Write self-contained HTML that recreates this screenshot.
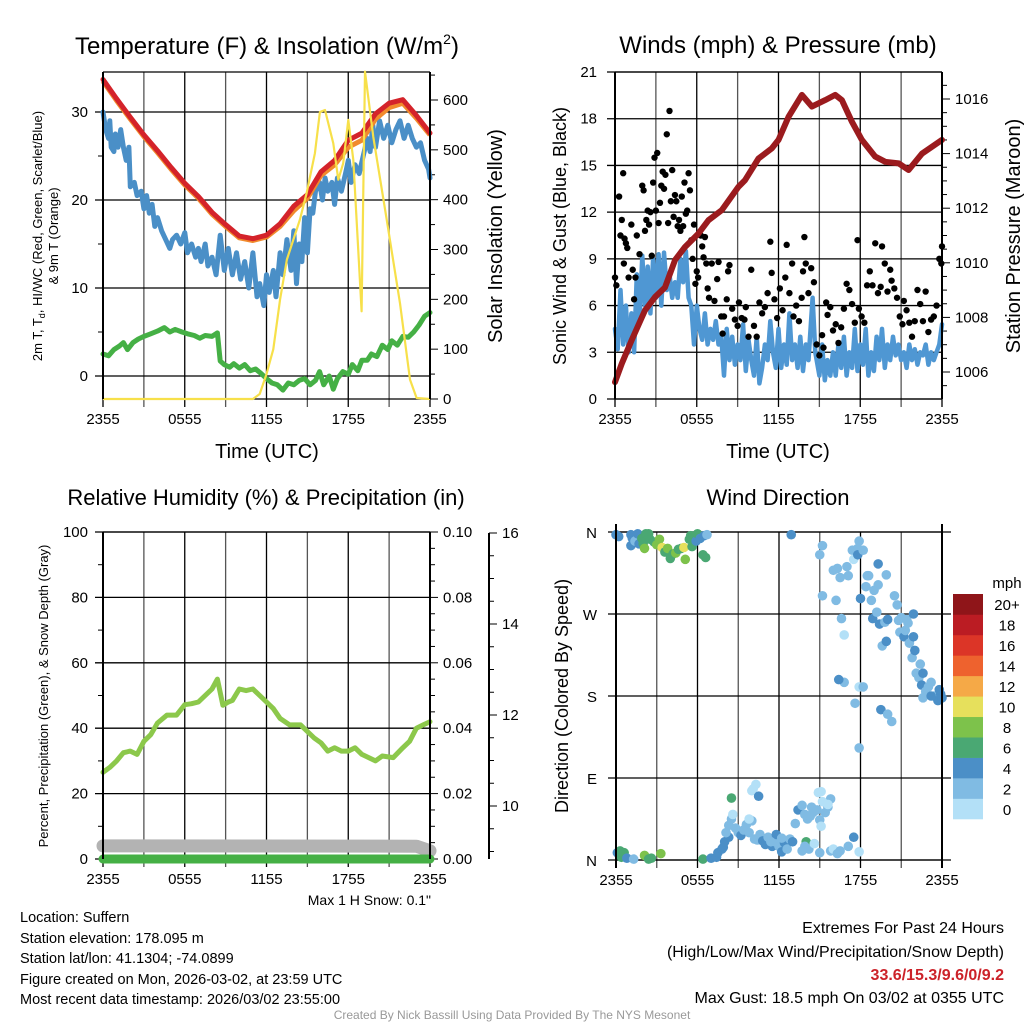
<!DOCTYPE html>
<html><head><meta charset="utf-8"><style>
html,body{margin:0;padding:0;background:#fff;}
svg{display:block;font-family:"Liberation Sans",Arial,sans-serif;}
</style></head><body>
<svg id="c" width="1024" height="1024" viewBox="0 0 1024 1024" xmlns="http://www.w3.org/2000/svg">
<rect width="1024" height="1024" fill="#fff"/>
<g id="g1"></g>
<g id="g2"></g>
<g id="g3"></g>
<g id="g4"></g>
<text x="267" y="54" font-size="24" text-anchor="middle">Temperature (F) &amp; Insolation (W/m<tspan font-size="14" dy="-10">2</tspan><tspan dy="10">)</tspan></text>
<text x="778" y="53" font-size="24" text-anchor="middle">Winds (mph) &amp; Pressure (mb)</text>
<text x="266" y="505" font-size="22" text-anchor="middle">Relative Humidity (%) &amp; Precipitation (in)</text>
<text x="778" y="505" font-size="22" text-anchor="middle">Wind Direction</text>
<text x="267" y="458" font-size="20" text-anchor="middle">Time (UTC)</text>
<text x="778" y="458" font-size="20" text-anchor="middle">Time (UTC)</text>
<text transform="translate(42,236) rotate(-90)" font-size="13" text-anchor="middle">2m T, T<tspan font-size="9" dy="3">d</tspan><tspan dy="-3">, HI/WC (Red, Green, Scarlet/Blue)</tspan></text>
<text transform="translate(58,236) rotate(-90)" font-size="13" text-anchor="middle">&amp; 9m T (Orange)</text>
<text transform="translate(502,236) rotate(-90)" font-size="20" text-anchor="middle">Solar Insolation (Yellow)</text>
<text transform="translate(566,236) rotate(-90)" font-size="18" text-anchor="middle">Sonic Wind &amp; Gust (Blue, Black)</text>
<text transform="translate(1020,236) rotate(-90)" font-size="20" text-anchor="middle">Station Pressure (Maroon)</text>
<text transform="translate(48,696) rotate(-90)" font-size="13" text-anchor="middle">Percent, Precipitation (Green), &amp; Snow Depth (Gray)</text>
<text transform="translate(568,696) rotate(-90)" font-size="18" text-anchor="middle">Direction (Colored By Speed)</text>
<text x="431" y="905" font-size="14" text-anchor="end">Max 1 H Snow: 0.1"</text>
<g font-size="14.5">
<text x="20" y="922">Location: Suffern</text>
<text x="20" y="943">Station elevation: 178.095 m</text>
<text x="20" y="963">Station lat/lon: 41.1304; -74.0899</text>
<text x="20" y="984">Figure created on Mon, 2026-03-02, at 23:59 UTC</text>
<text x="20" y="1004">Most recent data timestamp: 2026/03/02 23:55:00</text>
</g>
<g font-size="16" text-anchor="end">
<text x="1004" y="933">Extremes For Past 24 Hours</text>
<text x="1004" y="957">(High/Low/Max Wind/Precipitation/Snow Depth)</text>
<text x="1004" y="980" fill="#cc2229" font-weight="bold">33.6/15.3/9.6/0/9.2</text>
<text x="1004" y="1003">Max Gust: 18.5 mph On 03/02 at 0355 UTC</text>
</g>
<text x="512" y="1019" font-size="12" fill="#999" text-anchor="middle">Created By Nick Bassill Using Data Provided By The NYS Mesonet</text>
</svg>
<script>
// ---------- DATA ----------
const timeTickLabels = ["2355","0555","1155","1755","2355"];
const tempTicks = [0,10,20,30];
const insolTicks = [0,100,200,300,400,500,600];
const windTicks = [0,3,6,9,12,15,18,21];
const presTicks = [1006,1008,1010,1012,1014,1016];
const rhTicks = [0,20,40,60,80,100];
const precipTicks = ["0.00","0.02","0.04","0.06","0.08","0.10"];
const snowTicks = [10,12,14,16];
const dirLabels = ["N","E","S","W","N"];
const dirTicks = [0,90,180,270,360];

const redH = [0,1,2,3,4,5,6,7,8,9,10,11,12,13,14,15,16,17,18,19,20,21,22,23,24];
const redT = [33.7,31.5,29.4,27.4,25.6,23.7,21.9,20.4,18.6,17.2,15.9,15.6,16.0,17.3,19.3,20.6,23.2,24.5,26.8,27.6,29.8,31.0,31.4,29.6,27.6];
const orangeT = [33.5,31.3,29.2,27.2,25.4,23.5,21.7,20.2,18.4,17.0,15.7,15.4,15.8,17.0,18.8,20.2,22.8,24.0,26.0,26.8,29.2,30.5,31.0,29.3,27.4];
const blueH = [0,0.2,0.4,0.5,0.6,0.8,0.9,1.1,1.3,1.5,1.7,1.9,2.0,2.3,2.5,2.8,3.0,3.2,3.4,3.6,3.8,4.0,4.3,4.6,4.9,5.1,5.4,5.7,6.0,6.2,6.5,6.8,7.0,7.2,7.5,7.7,8.0,8.3,8.6,8.9,9.2,9.5,9.8,10.1,10.4,10.7,11.0,11.3,11.5,11.8,12.0,12.2,12.5,12.7,13.0,13.2,13.5,13.8,14.0,14.2,14.4,14.6,14.8,15.0,15.2,15.4,15.6,15.9,16.1,16.3,16.5,16.8,17.0,17.2,17.5,17.8,18.0,18.2,18.5,18.8,19.1,19.4,19.6,19.8,20.0,20.3,20.6,20.9,21.2,21.5,21.8,22.1,22.4,22.7,23.0,23.3,23.6,23.9,24];
const blueT = [30,28,27,29,26,25.5,27.5,26,28,26,24.5,26,21.5,22,20.5,21,19,20.5,18.5,19.5,17,18,16.5,15.5,14.5,15.5,16,15,16.3,14,15,13.5,14.5,13,15,12.5,13.5,11.5,16,12,14.5,11.5,14,11,13,10,14,9,10.5,8,11.5,9.5,12,9,14,11.5,15.5,12,16.5,10.5,15,13,18,14,19,18.5,21,22,20,22.5,21,22,19.5,22.5,21,23,24.5,22,24,23,25,27,25.5,28.5,26,29,27,28.5,26.5,28,29,27,28.5,27,26,26.5,24.5,23.5,22.5];
const greenH = [0,0.4,0.8,1.2,1.5,1.8,2.2,2.6,3.0,3.5,4.0,4.5,4.9,5.3,5.8,6.2,6.7,7.1,7.5,8.0,8.4,8.6,8.9,9.3,9.6,10.0,10.4,10.8,11.2,11.6,12.0,12.4,12.8,13.2,13.6,14.0,14.4,14.8,15.2,15.6,15.9,16.2,16.6,16.9,17.2,17.6,18.0,18.3,18.7,19.0,19.4,19.7,20.1,20.5,20.9,21.2,21.6,22.0,22.4,22.8,23.2,23.6,24];
const greenT = [2.5,2.3,3,3.4,3.8,3,3.8,4.2,4.5,4.8,5.1,5.5,5.0,5.3,5,4.8,4.6,4.3,4.6,4.5,4.9,1.7,1.3,1,1.4,0.9,1.3,0.6,0.8,0.3,-0.3,-0.8,-1,-1.6,-0.8,-1,-0.5,-0.3,-1.0,-0.5,0.5,-1.0,0,-1.5,-0.3,0.5,0.2,1.3,0.6,1.8,1.8,2.5,2.2,3.5,3,4,3.5,4.5,4.4,5,5.8,6.8,7.2];
const solarH = [0,11.0,11.5,12.0,12.5,13.0,13.5,14.45,14.94,15.55,15.92,16.29,16.9,17.27,17.63,18.0,18.37,18.98,19.23,19.84,20.82,21.8,22.53,23.02,24];
const solarW = [0,0,10,50,100,200,280,360,413,493,576,580,513,440,473,560,480,176,657,526,360,192,39,2,0];

const presH = [0,0.49,1.22,2.2,2.94,3.67,4.4,5.14,6.12,6.86,7.84,9.06,9.55,10.53,11.51,12,12.74,13.72,14.45,15.43,16.16,16.65,17.39,18.12,19.1,19.84,20.82,21.55,22.53,24];
const presMb = [1005.63,1006.3,1007.16,1008.26,1008.75,1009.1,1010.1,1010.58,1011.07,1011.56,1011.93,1012.78,1013.03,1013.82,1014.19,1014.5,1015.35,1016.15,1015.72,1015.96,1016.15,1015.96,1015.17,1014.5,1013.89,1013.7,1013.64,1013.4,1014.0,1014.5];
const windH = [0,0.2,0.4,0.6,0.8,1,1.2,1.4,1.6,1.8,2.0,2.2,2.4,2.6,2.8,3.0,3.2,3.4,3.6,3.8,4.0,4.2,4.4,4.6,4.8,5.0,5.2,5.4,5.6,5.8,6.0,6.2,6.4,6.6,6.8,7.0,7.2,7.4,7.6,7.8,8.0,8.2,8.4,8.6,8.8,9.0,9.2,9.4,9.6,9.8,10.0,10.2,10.4,10.6,10.8,11.0,11.2,11.4,11.6,11.8,12.0,12.2,12.4,12.6,12.8,13.0,13.2,13.4,13.6,13.8,14.0,14.2,14.5,14.7,15.0,15.2,15.4,15.6,15.8,16.0,16.2,16.4,16.6,16.8,17.0,17.2,17.4,17.6,17.8,18.0,18.2,18.4,18.6,18.8,19.0,19.2,19.4,19.6,19.8,20.0,20.2,20.4,20.6,20.8,21.0,21.2,21.4,21.6,21.8,22.0,22.2,22.4,22.6,22.8,23.0,23.2,23.4,23.6,23.8,24];
const windMph = [4.5,3.2,7,3.5,6,3,5.5,3,8,5,9.2,6,8.5,5.5,9,6.5,9.3,6,9.4,7,8,6.5,7.5,6.5,9,7.5,9.5,6.5,6,3.5,6,4.5,3.8,5.5,3.5,4.5,3.8,5,3.5,4,1.5,4.5,2.5,4,2.2,3.5,2.5,4.8,1.8,3.8,2.5,1.5,4.0,1,2,3.5,2.5,5,3,2,4.5,2,3.5,2.2,5.5,2.5,3.5,2,4,1.8,3.5,2.5,6.5,3,1.5,3.5,1.2,2.5,1.5,3.0,1.5,3.5,2,4,1.5,3,2,4.5,1.8,3.5,2.2,4.5,1.5,3,1.8,4,2.5,4.5,2,3.5,2.5,4,2.8,3.5,2.5,3,2,3.5,2.5,3.2,2.2,3,2.8,3.5,2.2,3,2.5,3,3.5,4.8];
const gustH = [0,0.1,0.3,0.4,0.5,0.6,0.7,0.8,0.9,0.65,1,1.2,1.3,1.4,1.5,1.6,1.8,2,2.1,2.2,2.3,2.4,2.5,2.6,2.7,2.8,2.9,3,3.1,3.2,3.3,3.4,3.5,3.6,3.7,3.8,3.9,4,4.1,4.2,4.3,4.4,4.5,4.6,4.7,4.8,4.9,5,5.1,5.2,5.3,5.4,5.5,5.6,5.7,5.8,5.9,6,6.1,6.3,6.4,6.5,6.6,6.7,6.8,6.9,7.1,7.3,7.5,7.6,7.8,7.9,8,8.2,8.3,8.4,8.6,8.8,9,9.1,9.3,9.5,9.6,9.8,10,10.2,10.4,10.6,10.8,11,11.2,11.4,11.5,11.7,11.9,12.1,12.3,12.5,12.6,12.8,13,13.1,13.3,13.5,13.7,13.8,13.9,14,14.2,14.4,14.6,14.8,15,15.2,15.3,15.5,15.6,15.8,16,16.2,16.4,16.6,16.8,17,17.2,17.4,17.6,17.8,17.9,18.1,18.3,18.5,18.7,18.9,19.1,19.3,19.5,19.6,19.8,20,20.2,20.3,20.5,20.7,20.9,21.1,21.2,21.4,21.6,21.8,22,22.2,22.4,22.6,22.8,23,23.2,23.4,23.6,23.8,23.95,24];
const gustMph = [7.8,7.3,13,10.5,11.5,14.5,10.3,10,9.7,8.7,7.8,11.2,8.3,6.4,7.8,10.5,9.3,13.7,13.4,10.8,11.5,12.1,11.2,12,9.2,13.9,15.5,12.1,15.8,11.3,12.6,13.7,14.6,13.5,14.4,17,11.3,18.5,12.7,14.7,11.7,13.1,12.7,11.1,11.5,10.8,13,11.1,13.9,11.9,12.1,14.5,13.4,10.2,9,11.2,7.4,8.2,7.8,10.5,9.8,9.1,10.4,8.7,7.1,6.5,8.7,6.3,7.7,8.8,5.3,4.2,5.3,6.4,8.2,8.6,5.8,5.1,4.7,6.2,5.2,5.1,5.9,4,8.3,4.7,4,6.2,5.5,5.9,6.8,10.1,8.1,6.4,5.2,7.1,5.7,7.8,9.9,6.8,8.7,5.3,6,5,6.5,8.2,10.4,8.7,6.8,8.4,7.5,3.5,2.8,4.1,3.3,6.2,5.4,5.9,4.4,4.8,3.6,4.6,5.8,7.4,7,6.1,4.9,10.2,5.8,5.3,4.9,7.3,8.2,7.3,10,6.8,7.2,9.8,8.7,6.9,8.3,7.6,7.1,6.5,5.3,4.8,6.3,5.7,4.9,4,5,7,6.1,5,6.9,4.3,5.1,5.3,6,9,8.7,9.8];

const rhH = [0,0.5,1,1.5,2,2.5,3,3.5,4,4.7,5.4,6,6.5,7,7.5,8,8.4,8.8,9.2,9.5,10,10.5,11,11.5,12,12.5,13,13.7,14.5,15,15.5,16,16.5,17,17.5,18,18.5,19,19.5,20,20.5,21.3,22,22.5,23,23.5,24];
const rhPct = [26.5,28,30,32.5,33,32,36,38,41.6,44,44,47.2,47.5,48,50,52,55,47,48,48.5,52,51.5,52,50,48,46,43,41,41,39,37,35.5,33,34,33,33,34,32,31,30,31.5,31,34,36,40,41,42];
const snowH = [0,1,23,24];
const snowPct = [4,4,3.9,2.5];
const precipH = [0,24];
const precipIn = [0,0];

const dirH = [0,1.1,1.2,1.1,1.4,1.6,1.7,1.9,2,2.2,2.4,2.1,2.5,2.8,3,3.2,3.4,3.6,3.8,4,4.2,4.4,4.6,4.8,5,5.1,5.4,5.5,5.6,5.9,6,6.2,6.5,6.7,6.4,6.6,12.9,0.2,
0.1,0.3,0.6,0.4,0.8,1.3,2.1,2.4,2.6,3.3,6.4,7,7.4,
7.5,7.8,7.9,8,8.3,8.1,8.5,8.3,8.6,8.8,9,9.2,9.4,9.6,9.8,10,10.2,10.4,10.6,10.8,11,11.2,11.5,11.7,11.8,12,12.2,12.4,12.6,12.8,13,13.2,13.4,13.7,13.9,14.1,14.3,14.4,14.5,14.8,15,15.1,15.4,15.6,15.8,15.2,15.1,15.6,14.9,10.1,10.3,10,10.5,8.5,14,13.9,14.2,13.7,14.6,15,15.8,16,16.3,16.5,17.1,17.5,17.9,11.4,12.2,9.8,
15,15.2,15.2,16,16.2,16.3,16.5,16.6,16.8,17,17.1,17.4,17.5,17.8,17.9,17.8,18.2,18,18.5,18.6,18.4,18.8,18.9,19,19.3,19.2,19.4,19.6,19.8,19.9,20,20.5,20.7,20.8,20.9,21,21.2,21.4,21.6,21.8,22,22.1,22.3,22.4,22.5,22.6,22.8,23,23.2,23.4,23.6,23.7,23.9,24,23.8,22.6,23.2,21.5,21.9,17.9,18.2,17.6,17.9,19.5,20,20.3,21.9,21.3,16.8,16.4,19.3,19.9];
const dirDeg = [357,357,353,345,350,358,347,353,347,358,358,342,352,349,346,352,343,338,342,331,336,337,341,342,343,330,352,356,344,350,358,353,356,357,335,332,357,355,
8,10,8,3,2,1,5,1,2,7,1,2,3,
8,12,14,20,25,30,45,38,50,35,30,27,33,39,30,43,23,22,28,21,17,25,15,20,28,15,9,19,12,23,20,40,55,60,50,45,48,58,52,55,44,37,52,58,67,64,75,61,74,78,83,76,70,68,20,15,12,10,18,8,10,12,7,10,15,25,9,20,24,45,
335,345,290,318,285,320,310,265,247,322,312,340,330,342,350,335,340,287,312,312,300,285,265,296,302,272,259,235,261,240,264,290,280,263,250,266,245,264,238,222,230,205,200,215,192,178,185,190,195,180,178,175,182,178,187,205,180,260,245,190,190,172,123,165,160,152,270,252,195,198,325,313];
const dirSpd = [4,4,4,4,3,4,5,6,7,6,6,8,7,6,8,8,10,6,8,6,6,8,7,6,10,8,6,6,6,4,6,4,4,3,6,6,4,4,
5,6,6,6,4,2,8,6,6,8,6,4,4,
4,4,4,4,4,3,2,3,0,3,3,4,3,3,3,3,3,3,3,4,4,3,4,3,4,3,4,4,3,3,4,3,4,3,3,3,3,3,3,3,3,1,3,3,3,1,1,1,1,1,1,1,4,6,6,3,3,3,1,2,3,1,3,3,3,5,1,3,
3,1,3,3,3,3,3,3,3,3,1,3,3,3,1,3,3,4,3,4,3,3,3,3,4,3,3,3,4,3,3,4,4,3,3,3,3,3,4,3,3,3,4,3,3,3,4,3,3,3,3,3,3,4,4,4,4,4,4,3,4,1,3,3,3,4,3,3,4,3,3,4,4];
const speedBins = ["0","2","4","6","8","10","12","14","16","18","20+"];
const speedColors = ["#b3e0f7","#80bbe3","#4b8fc7","#4aa873","#7dc24b","#e6e05c","#f5a947","#ee622e","#dc3527","#bb1c23","#8f1519"];

// ---------- HELPERS ----------
const NS="http://www.w3.org/2000/svg";
function mk(parent,tag,attrs,txt){const e=document.createElementNS(NS,tag);for(const k in attrs)e.setAttribute(k,attrs[k]);if(txt!==undefined)e.textContent=txt;parent.appendChild(e);return e;}
function lin(d0,d1,r0,r1){return v=>r0+(v-d0)*(r1-r0)/(d1-d0);}
function pts(xs,ys,fx,fy){return xs.map((h,i)=>fx(h).toFixed(1)+","+fy(ys[i]).toFixed(1)).join(" ");}

function frame(g,x0,x1,y0,y1){
  const fx=lin(0,24,x0,x1);
  for(let h=0;h<=24;h+=3){
    const l=mk(g,"line",{x1:fx(h),x2:fx(h),y1:y0,y2:y1+8,stroke:(h%6==0)?"#000":"#555","stroke-width":1.3});
    
    
  }
  timeTickLabels.forEach((s,i)=>{
    const t=mk(g,"text",{x:fx(i*6),y:y1+25,"font-size":15,"text-anchor":"middle"},s);
    
    
  });
  mk(g,"line",{x1:x0,x2:x1,y1:y0,y2:y0,stroke:"#000","stroke-width":1.3});
  mk(g,"line",{x1:x0,x2:x1,y1:y1,y2:y1,stroke:"#000","stroke-width":1.3});
  return fx;
}
function hgrid(g,x0,x1,y,label,lx){
  const l=mk(g,"line",{x1:x0-8,x2:x1,y1:y,y2:y,stroke:"#000","stroke-width":1.3});
  
  
  const t=mk(g,"text",{x:lx,y:y+5,"font-size":15,"text-anchor":"end"},label);
  
  
}
function rightTick(g,x,y,label,major){
  mk(g,"line",{x1:x,x2:x+(major?8:5),y1:y,y2:y,stroke:"#000","stroke-width":1});
  if(label!==null){
    const t=mk(g,"text",{x:x+13,y:y+5,"font-size":15},label);
    
    
  }
}
function axisLines(g,x0,x1,y0,y1){
  mk(g,"line",{x1:x0,x2:x0,y1:y0,y2:y1,stroke:"#000","stroke-width":2});
  mk(g,"line",{x1:x1,x2:x1,y1:y0,y2:y1,stroke:"#000","stroke-width":2});
}

// ---------- PANEL 1 ----------
(function(){
  const g=document.getElementById("g1");
  const x0=103,x1=430,y0=72,y1=399;
  const fx=frame(g,x0,x1,y0,y1);
  const fy=lin(0,30,376,112);
  const fs=lin(0,600,399,100);
  tempTicks.forEach(v=>hgrid(g,x0,x1,fy(v),String(v),88));
  [5,15,25].forEach(v=>mk(g,"line",{x1:x0-5,x2:x0,y1:fy(v),y2:fy(v),stroke:"#000"}));
  for(let s=0;s<=650;s+=50){rightTick(g,x1,fs(s),insolTicks.includes(s)?String(s):null,s%100==0);}
  let e;
  e=mk(g,"polyline",{points:pts(blueH,blueT,fx,fy),fill:"none",stroke:"#4a8fc7","stroke-width":5,"stroke-linejoin":"round","stroke-linecap":"round"});
  
  
  e=mk(g,"polyline",{points:pts(greenH,greenT,fx,fy),fill:"none",stroke:"#45b045","stroke-width":5,"stroke-linejoin":"round","stroke-linecap":"round"});
  
  
  e=mk(g,"polyline",{points:pts(redH,orangeT,fx,fy),fill:"none",stroke:"#f18a2c","stroke-width":5,"stroke-linejoin":"round"});
  
  
  e=mk(g,"polyline",{points:pts(redH,redT,fx,fy),fill:"none",stroke:"#d4232a","stroke-width":5,"stroke-linejoin":"round","stroke-linecap":"round"});
  
  
  e=mk(g,"polyline",{points:pts(solarH,solarW,fx,fs),fill:"none",stroke:"#f7e04a","stroke-width":2.2,"stroke-linejoin":"round"});
  
  
  axisLines(g,x0,x1,y0,y1);
})();

// ---------- PANEL 2 ----------
(function(){
  const g=document.getElementById("g2");
  const x0=615,x1=942,y0=72,y1=399;
  const fx=frame(g,x0,x1,y0,y1);
  const fy=lin(0,21,399,72);
  const fp=lin(1006,1016,372,99);
  windTicks.forEach(v=>hgrid(g,x0,x1,fy(v),String(v),597));
  for(let p=1005.5;p<=1016.6;p+=0.5){const maj=Math.abs(p-Math.round(p))<0.01&&Math.round(p)%2==0;rightTick(g,x1,fp(p),maj&&presTicks.includes(Math.round(p))?String(Math.round(p)):null,maj);}
  let e=mk(g,"polyline",{points:pts(windH,windMph,fx,fy),fill:"none",stroke:"#4f97d3","stroke-width":4.5,"stroke-linejoin":"round","stroke-linecap":"round"});
  
  
  gustH.forEach((h,i)=>{
    const c=mk(g,"circle",{cx:fx(h),cy:fy(gustMph[i]),r:3.2,fill:"#000"});
    
    
  });
  e=mk(g,"polyline",{points:pts(presH,presMb,fx,fp),fill:"none",stroke:"#9b1b1e","stroke-width":6,"stroke-linejoin":"round","stroke-linecap":"round"});
  
  
  axisLines(g,x0,x1,y0,y1);
})();

// ---------- PANEL 3 ----------
(function(){
  const g=document.getElementById("g3");
  const x0=103,x1=430,y0=532,y1=859;
  const fx=frame(g,x0,x1,y0,y1);
  const fy=lin(0,100,859,532);
  rhTicks.forEach(v=>hgrid(g,x0,x1,fy(v),String(v),88));
  [10,30,50,70,90].forEach(v=>mk(g,"line",{x1:x0-5,x2:x0,y1:fy(v),y2:fy(v),stroke:"#000"}));
  for(let k=0;k<=20;k++){rightTick(g,x1,fy(k*5),k%4==0?precipTicks[k/4]:null,k%4==0);}
  const fsn=lin(10,16,806,533);
  mk(g,"line",{x1:489,x2:489,y1:533,y2:859,stroke:"#000","stroke-width":2});
  for(let s=9;s<=16;s+=0.5){const maj=Number.isInteger(s)&&s%2==0;const y=fsn(s);if(y>859)continue;
    mk(g,"line",{x1:489,x2:489+(maj?8:5),y1:y,y2:y,stroke:"#000"});
    if(maj&&snowTicks.includes(s)){const t=mk(g,"text",{x:502,y:y+5,"font-size":15},String(s));}}
  let e=mk(g,"polyline",{points:pts(snowH,snowPct,fx,fy),fill:"none",stroke:"#b3b3b3","stroke-width":13,"stroke-linejoin":"round","stroke-linecap":"round"});
  
  
  e=mk(g,"polyline",{points:pts(precipH,precipIn,fx,v=>fy(v*1000)),fill:"none",stroke:"#45b045","stroke-width":9,"stroke-linecap":"round"});
  
  
  e=mk(g,"polyline",{points:pts(rhH,rhPct,fx,fy),fill:"none",stroke:"#8cc84b","stroke-width":5,"stroke-linejoin":"round","stroke-linecap":"round"});
  
  
  axisLines(g,x0,x1,y0,y1);
})();

// ---------- PANEL 4 ----------
(function(){
  const g=document.getElementById("g4");
  const x0=616,x1=942,y0=532,y1=860;
  const fx=frame(g,x0,x1,y0,y1);
  const fy=lin(0,360,860,532);
  dirTicks.forEach((v,i)=>{
    const l=mk(g,"line",{x1:x0-8,x2:x1+9,y1:fy(v),y2:fy(v),stroke:"#000","stroke-width":1.3});
    
    
    const t=mk(g,"text",{x:597,y:fy(v)+6,"font-size":15,"text-anchor":"end"},dirLabels[i]);
    
    
  });
  dirH.forEach((h,i)=>{
    if(dirDeg[i]===undefined)return;
    const sp=(dirSpd[i]===undefined)?3:dirSpd[i];
    const bin=Math.max(0,Math.min(10,Math.floor(sp/2)));
    const c=mk(g,"circle",{cx:fx(h),cy:fy(dirDeg[i]),r:4.8,fill:speedColors[bin]});
    
    
  });
  mk(g,"line",{x1:x0,x2:x0,y1:y0-8,y2:y1+8,stroke:"#000","stroke-width":2});
  mk(g,"line",{x1:x1,x2:x1,y1:y0-8,y2:y1+8,stroke:"#000","stroke-width":2});
  const t0=mk(g,"text",{x:1007,y:588,"font-size":15,"text-anchor":"middle"},"mph");
  
  
  const bh=(819-594)/11;
  for(let i=0;i<11;i++){
    const y=594+(10-i)*bh;
    const r=mk(g,"rect",{x:953,y:y,width:30,height:bh+0.3,fill:speedColors[i]});
    
    
    const t=mk(g,"text",{x:1007,y:y+bh/2+6,"font-size":15,"text-anchor":"middle"},speedBins[i]);
    
    
  }
})();
</script>
</body></html>
